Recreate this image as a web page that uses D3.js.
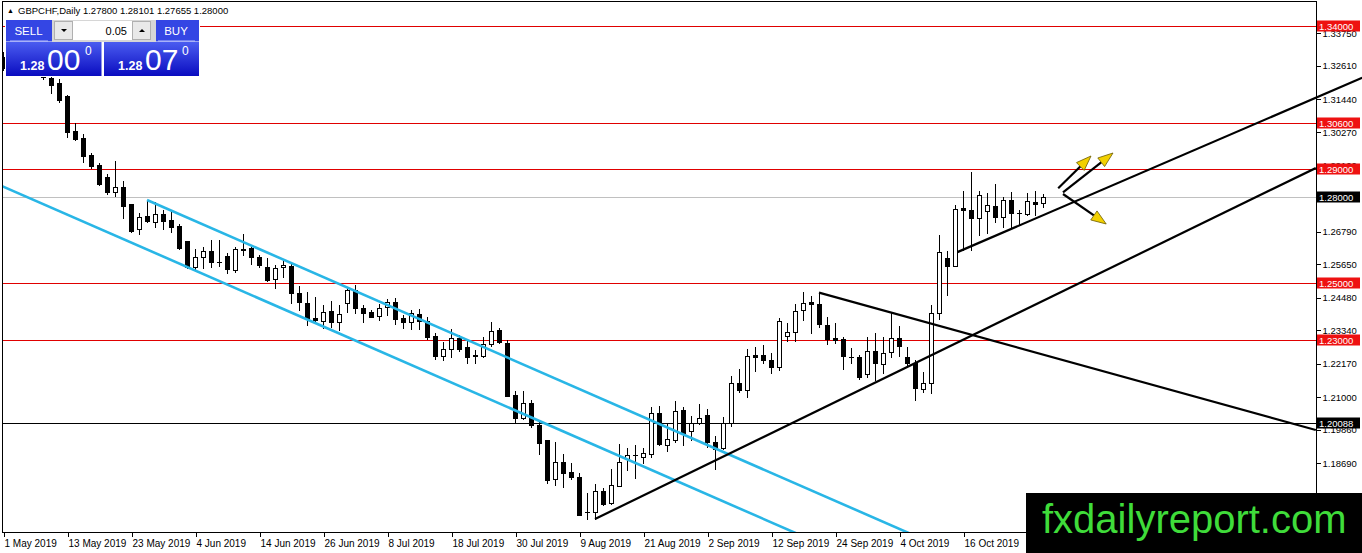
<!DOCTYPE html>
<html>
<head>
<meta charset="utf-8">
<script src="https://cdn.jsdelivr.net/npm/d3@7.9.0/dist/d3.min.js"></script>
<style>
  html, body { margin: 0; padding: 0; background: #fff; overflow: hidden; }
  svg { display: block; }
  text { font-family: "Liberation Sans", Arial, sans-serif; }
</style>
</head>
<body>
<svg id="chart" width="1362" height="553"></svg>
<script>
// GBPCHF daily, 1 May 2019 .. 30 Oct 2019 (one bar per trading day)
const symbol = 'GBPCHF,Daily';
const lastQuote = ['1.27800', '1.28101', '1.27655', '1.28000'];

const opens = [1.3291,1.3253,1.3305,1.3330,1.3285,1.3255,1.3218,1.3200,1.3155,1.3032,
  1.3007,1.2948,1.2913,1.2872,1.2820,1.2837,1.2775,1.2688,1.2735,1.2715,
  1.2742,1.2720,1.2699,1.2647,1.2557,1.2590,1.2611,1.2574,1.2594,1.2545,
  1.2620,1.2621,1.2590,1.2557,1.2513,1.2557,1.2559,1.2464,1.2429,1.2376,
  1.2368,1.2402,1.2364,1.2431,1.2475,1.2411,1.2398,1.2384,1.2415,1.2434,
  1.2378,1.2362,1.2390,1.2368,1.2314,1.2244,1.2269,1.2308,1.2275,1.2247,
  1.2245,1.2285,1.2335,1.2289,1.2106,1.2026,1.2078,1.2002,1.1950,1.1812,
  1.1874,1.1839,1.1819,1.1698,1.1698,1.1772,1.1728,1.1790,1.1882,1.1896,
  1.1891,1.1901,1.2043,1.1932,1.1950,1.2055,1.1981,1.2011,1.2037,1.1944,
  1.1921,1.2008,1.2149,1.2125,1.2247,1.2247,1.2230,1.2205,1.2314,1.2329,
  1.2405,1.2433,1.2426,1.2353,1.2306,1.2303,1.2240,1.2240,1.2180,1.2262,
  1.2216,1.2259,1.2306,1.2240,1.2221,1.2128,1.2151,1.2394,1.2588,1.2560,
  1.2761,1.2756,1.2726,1.2752,1.2770,1.2732,1.2791,1.2746,1.2740,1.2785,
  1.2780];
const highs = [1.3310,1.3320,1.3350,1.3345,1.3300,1.3270,1.3225,1.3214,1.3157,1.3061,
  1.3022,1.2956,1.2921,1.2882,1.2928,1.2857,1.2776,1.2744,1.2791,1.2785,
  1.2756,1.2750,1.2706,1.2648,1.2618,1.2625,1.2650,1.2650,1.2604,1.2627,
  1.2671,1.2627,1.2598,1.2586,1.2563,1.2580,1.2569,1.2489,1.2469,1.2452,
  1.2423,1.2438,1.2423,1.2487,1.2493,1.2423,1.2405,1.2426,1.2443,1.2446,
  1.2388,1.2405,1.2408,1.2380,1.2324,1.2294,1.2338,1.2318,1.2300,1.2265,
  1.2312,1.2364,1.2341,1.2300,1.2123,1.2123,1.2090,1.2014,1.1950,1.1944,
  1.1900,1.1868,1.1835,1.1763,1.1795,1.1781,1.1847,1.1935,1.1921,1.1932,
  1.1921,1.2064,1.2069,1.2011,1.2087,1.2064,1.2034,1.2076,1.2057,1.1964,
  1.2029,1.2174,1.2198,1.2268,1.2277,1.2283,1.2254,1.2376,1.2359,1.2426,
  1.2469,1.2454,1.2466,1.2382,1.2361,1.2310,1.2271,1.2248,1.2310,1.2324,
  1.2312,1.2399,1.2349,1.2277,1.2230,1.2189,1.2423,1.2668,1.2612,1.2773,
  1.2822,1.2890,1.2822,1.2814,1.2846,1.2802,1.2818,1.2756,1.2814,1.2822,
  1.28101];
const lows = [1.3245,1.3240,1.3280,1.3270,1.3240,1.3216,1.3164,1.3135,1.3011,1.3001,
  1.2925,1.2904,1.2843,1.2812,1.2805,1.2726,1.2680,1.2671,1.2715,1.2697,
  1.2688,1.2680,1.2618,1.2551,1.2548,1.2551,1.2557,1.2559,1.2534,1.2539,
  1.2598,1.2566,1.2557,1.2507,1.2481,1.2522,1.2429,1.2405,1.2353,1.2364,
  1.2341,1.2347,1.2335,1.2399,1.2396,1.2364,1.2380,1.2370,1.2388,1.2355,
  1.2343,1.2338,1.2338,1.2303,1.2233,1.2230,1.2242,1.2263,1.2221,1.2219,
  1.2242,1.2279,1.2289,1.2103,1.2014,1.2022,1.1994,1.1901,1.1800,1.1792,
  1.1784,1.1812,1.1687,1.1672,1.1674,1.1722,1.1726,1.1789,1.1845,1.1816,
  1.1868,1.1891,1.1932,1.1912,1.1944,1.1932,1.1950,1.2006,1.1924,1.1847,
  1.1918,1.1999,1.2119,1.2102,1.2193,1.2221,1.2186,1.2195,1.2298,1.2298,
  1.2370,1.2326,1.2347,1.2286,1.2291,1.2198,1.2221,1.2163,1.2172,1.2160,
  1.2186,1.2242,1.2244,1.2213,1.2090,1.2119,1.2113,1.2374,1.2458,1.2558,
  1.2615,1.2615,1.2668,1.2674,1.2715,1.2697,1.2691,1.2703,1.2738,1.2738,
  1.27655];
const closes = [1.3253,1.3305,1.3330,1.3285,1.3255,1.3222,1.3193,1.3141,1.3030,1.3004,
  1.2946,1.2911,1.2847,1.2820,1.2835,1.2771,1.2683,1.2730,1.2718,1.2740,
  1.2718,1.2697,1.2621,1.2557,1.2590,1.2611,1.2574,1.2575,1.2548,1.2618,
  1.2617,1.2590,1.2563,1.2510,1.2551,1.2562,1.2464,1.2434,1.2373,1.2370,
  1.2399,1.2364,1.2390,1.2475,1.2411,1.2394,1.2382,1.2413,1.2434,1.2373,
  1.2362,1.2394,1.2368,1.2312,1.2244,1.2268,1.2306,1.2268,1.2242,1.2244,
  1.2285,1.2332,1.2292,1.2105,1.2026,1.2078,1.2002,1.1938,1.1810,1.1874,
  1.1835,1.1819,1.1687,1.1698,1.1772,1.1726,1.1792,1.1874,1.1896,1.1896,
  1.1903,1.2046,1.1935,1.1952,1.2053,1.1975,1.2008,1.2026,1.1944,1.1918,
  1.2008,1.2149,1.2125,1.2244,1.2242,1.2230,1.2205,1.2368,1.2329,1.2403,
  1.2431,1.2426,1.2356,1.2303,1.2300,1.2244,1.2240,1.2170,1.2262,1.2219,
  1.2254,1.2306,1.2279,1.2221,1.2131,1.2149,1.2394,1.2609,1.2560,1.2758,
  1.2756,1.2726,1.2808,1.2773,1.2730,1.2791,1.2744,1.2746,1.2787,1.2776,
  1.2800];

// time axis: a label every 8 bars
const dateTickBars = [0, 8, 16, 24, 32, 40, 48, 56, 64, 72, 80, 88, 96, 104, 112, 120];
const dateLabels = ['1 May 2019', '13 May 2019', '23 May 2019', '4 Jun 2019', '14 Jun 2019',
  '26 Jun 2019', '8 Jul 2019', '18 Jul 2019', '30 Jul 2019', '9 Aug 2019', '21 Aug 2019',
  '2 Sep 2019', '12 Sep 2019', '24 Sep 2019', '4 Oct 2019', '16 Oct 2019'];

// price scale labels (the one under the 1.28000 tag is not shown)
const priceTicks = [1.33750, 1.32610, 1.31440, 1.30270, 1.29100, 1.26790, 1.25650,
  1.24480, 1.23340, 1.22170, 1.21000, 1.19860, 1.18690, 1.17520];

// horizontal levels
const redLevels = [1.34000, 1.30600, 1.29000, 1.25000, 1.23000];
const bidLevel = 1.28000;
const blackLevel = 1.20088;

// drawn objects, anchored on bar index / price
const cyanLines = [
  { i1: 18, p1: 1.27906, i2: 120, p2: 1.15411 },
  { i1: -0.5, p1: 1.2844, i2: 105, p2: 1.15516 }
];
const blackLines = [
  { i1: 74, p1: 1.16732, i2: 164.1, p2: 1.29026 },
  { i1: 102, p1: 1.2466, i2: 164.1, p2: 1.19849 }
];
const supportLine = { i1: 119.3, p1: 1.2608, i2: 169.9, p2: 1.32186 };
const arrows = [
  { i1: 131.9, p1: 1.28315, i2: 136, p2: 1.29447 },
  { i1: 132.5, p1: 1.28175, i2: 138.75, p2: 1.29552 },
  { i1: 132.5, p1: 1.28116, i2: 137.9, p2: 1.27065 }
];

const W = 1362, H = 553;
const plotL = 2, plotR = 1316, plotT = 1, plotB = 532;

const x = d3.scaleLinear().domain([0, 164.125]).range([3, 1316]);
const y = d3.scaleLinear().domain([1.162767, 1.348757]).range([532, 1]);

const svg = d3.select('#chart');
const defs = svg.append('defs');
defs.append('clipPath').attr('id', 'plotClip')
  .append('rect').attr('x', plotL).attr('y', plotT).attr('width', plotR - plotL).attr('height', plotB - plotT);
defs.append('clipPath').attr('id', 'wideClip')
  .append('rect').attr('x', plotL).attr('y', plotT).attr('width', W - plotL).attr('height', plotB - plotT);
let grad = defs.append('linearGradient').attr('id', 'blueGrad')
  .attr('x1', 0).attr('y1', 0).attr('x2', 0).attr('y2', 1);
grad.append('stop').attr('offset', '0%').attr('stop-color', '#4a5cf0');
grad.append('stop').attr('offset', '100%').attr('stop-color', '#0a0cc0');

const crisp = v => Math.round(v) + 0.5;

// horizontal levels (behind candles)
let lv = svg.append('g').attr('shape-rendering', 'crispEdges');
redLevels.forEach(p => {
  lv.append('line').attr('x1', plotL).attr('x2', plotR)
    .attr('y1', crisp(y(p))).attr('y2', crisp(y(p))).attr('stroke', '#e00000');
});
lv.append('line').attr('x1', plotL).attr('x2', plotR)
  .attr('y1', crisp(y(bidLevel))).attr('y2', crisp(y(bidLevel))).attr('stroke', '#c0c0c0');
lv.append('line').attr('x1', plotL).attr('x2', plotR)
  .attr('y1', crisp(y(blackLevel))).attr('y2', crisp(y(blackLevel))).attr('stroke', '#000');

// candles
const bars = opens.map((o, i) => ({ i, o, h: highs[i], l: lows[i], c: closes[i] }));
let cg = svg.append('g').attr('shape-rendering', 'crispEdges').attr('clip-path', 'url(#plotClip)');
cg.selectAll('line.wick').data(bars).join('line').attr('class', 'wick')
  .attr('x1', d => crisp(x(d.i))).attr('x2', d => crisp(x(d.i)))
  .attr('y1', d => Math.round(y(d.h))).attr('y2', d => Math.round(y(d.l)) + 1)
  .attr('stroke', '#000');
let bodies = bars.filter(d => Math.round(y(d.o)) !== Math.round(y(d.c)));
cg.selectAll('rect.body').data(bodies).join('rect').attr('class', 'body')
  .attr('x', d => Math.round(x(d.i)) - 2 + 0.5)
  .attr('width', 4)
  .attr('y', d => Math.round(y(Math.max(d.o, d.c))) + 0.5)
  .attr('height', d => Math.round(y(Math.min(d.o, d.c))) - Math.round(y(Math.max(d.o, d.c))))
  .attr('fill', d => d.c >= d.o ? '#fff' : '#000')
  .attr('stroke', '#000');
let dojis = bars.filter(d => Math.round(y(d.o)) === Math.round(y(d.c)));
cg.selectAll('line.doji').data(dojis).join('line').attr('class', 'doji')
  .attr('x1', d => Math.round(x(d.i)) - 2).attr('x2', d => Math.round(x(d.i)) + 3)
  .attr('y1', d => crisp(y(d.o))).attr('y2', d => crisp(y(d.o)))
  .attr('stroke', '#000');

// trend lines
let tl = svg.append('g').attr('clip-path', 'url(#plotClip)');
tl.selectAll('line.cyan').data(cyanLines).join('line').attr('class', 'cyan')
  .attr('x1', d => x(d.i1)).attr('y1', d => y(d.p1))
  .attr('x2', d => x(d.i2)).attr('y2', d => y(d.p2))
  .attr('stroke', '#29b6e6').attr('stroke-width', 2.6);
tl.selectAll('line.blk').data(blackLines).join('line').attr('class', 'blk')
  .attr('x1', d => x(d.i1)).attr('y1', d => y(d.p1))
  .attr('x2', d => x(d.i2)).attr('y2', d => y(d.p2))
  .attr('stroke', '#000').attr('stroke-width', 2.2);
svg.append('g').attr('clip-path', 'url(#wideClip)').append('line')
  .attr('x1', x(supportLine.i1)).attr('y1', y(supportLine.p1))
  .attr('x2', x(supportLine.i2)).attr('y2', y(supportLine.p2))
  .attr('stroke', '#000').attr('stroke-width', 2.2);

// arrows
let ag = svg.append('g');
arrows.forEach(a => {
  let x1 = x(a.i1), y1 = y(a.p1), x2 = x(a.i2), y2 = y(a.p2);
  let len = Math.hypot(x2 - x1, y2 - y1);
  let ux = (x2 - x1) / len, uy = (y2 - y1) / len;
  let headL = 15, headW = 5.5;
  let bx = x2 - ux * headL, by = y2 - uy * headL;
  ag.append('line').attr('x1', x1).attr('y1', y1).attr('x2', bx).attr('y2', by)
    .attr('stroke', '#000').attr('stroke-width', 2.2);
  ag.append('path')
    .attr('d', `M${x2},${y2}L${bx - uy * headW},${by + ux * headW}L${bx + uy * headW},${by - ux * headW}Z`)
    .attr('fill', '#f2d000').attr('stroke', '#6b5a00').attr('stroke-width', 0.8);
});

// frame
svg.append('rect').attr('x', plotL + 0.5).attr('y', plotT + 0.5)
  .attr('width', plotR - plotL).attr('height', plotB - plotT)
  .attr('fill', 'none').attr('stroke', '#000').attr('shape-rendering', 'crispEdges');

// price axis
let yAxis = svg.append('g').attr('transform', `translate(${plotR + 0.5},0)`)
  .call(d3.axisRight(y).tickValues(priceTicks).tickSize(4).tickPadding(2).tickFormat(d3.format('.5f')));
yAxis.select('.domain').remove();
yAxis.selectAll('line').attr('shape-rendering', 'crispEdges');
yAxis.selectAll('text').attr('font-size', 9.5).attr('fill', '#000')
  .style('font-family', '"Liberation Sans", Arial, sans-serif');

// time axis
let xAxis = svg.append('g').attr('transform', `translate(0,${plotB + 0.5})`)
  .call(d3.axisBottom(x).tickValues(dateTickBars).tickSize(4)
    .tickFormat((d, i) => dateLabels[i]));
xAxis.select('.domain').remove();
xAxis.selectAll('line').attr('shape-rendering', 'crispEdges')
  .attr('transform', 'translate(0.5,0)');
xAxis.selectAll('text').attr('font-size', 10).attr('fill', '#000')
  .attr('text-anchor', 'start').attr('dx', 1).attr('y', 6).attr('dy', '0.85em')
  .style('font-family', '"Liberation Sans", Arial, sans-serif');

// level labels on the price scale
function levelTag(p, bg) {
  let yy = Math.round(y(p));
  svg.append('rect').attr('x', plotR + 1).attr('y', yy - 5.5).attr('width', 43).attr('height', 11)
    .attr('fill', bg);
  svg.append('text').attr('x', plotR + 3).attr('y', yy + 3.6)
    .attr('font-size', 9.5).attr('fill', '#fff').text(d3.format('.5f')(p));
}
redLevels.forEach(p => levelTag(p, '#ee1111'));
levelTag(bidLevel, '#000');
levelTag(blackLevel, '#000');

// header
svg.append('text').attr('x', 7).attr('y', 13).attr('font-size', 7).attr('fill', '#000').text('\u25B2');
svg.append('text').attr('x', 18).attr('y', 13.5).attr('font-size', 9.5).attr('fill', '#000')
  .text(symbol + '  ' + lastQuote.join(' '));

// one-click trading panel
let pnl = svg.append('g');
pnl.append('rect').attr('x', 5).attr('y', 19).attr('width', 195).attr('height', 58).attr('fill', '#fff');
pnl.append('rect').attr('x', 6).attr('y', 20).attr('width', 46).attr('height', 21.5).attr('fill', '#3446e4');
pnl.append('rect').attr('x', 156).attr('y', 20).attr('width', 43).attr('height', 21.5).attr('fill', '#3446e4');
pnl.append('line').attr('x1', 10).attr('x2', 48).attr('y1', 41).attr('y2', 41).attr('stroke', '#b8c0ff');
pnl.append('line').attr('x1', 158).attr('x2', 195).attr('y1', 41).attr('y2', 41).attr('stroke', '#b8c0ff');
pnl.append('text').attr('x', 28.5).attr('y', 35).attr('text-anchor', 'middle').attr('font-size', 11.5)
  .attr('fill', '#fff').text('SELL');
pnl.append('text').attr('x', 176).attr('y', 35).attr('text-anchor', 'middle').attr('font-size', 11.5)
  .attr('fill', '#fff').text('BUY');
pnl.append('rect').attr('x', 52).attr('y', 20).attr('width', 104).attr('height', 22).attr('fill', '#d6d6d6');
pnl.append('rect').attr('x', 54.5).attr('y', 21.5).attr('width', 18).attr('height', 18)
  .attr('fill', '#e9e9e9').attr('stroke', '#b0b0b0');
pnl.append('rect').attr('x', 73).attr('y', 21).attr('width', 59).attr('height', 19).attr('fill', '#fff');
pnl.append('rect').attr('x', 132.5).attr('y', 21.5).attr('width', 18).attr('height', 18)
  .attr('fill', '#e9e9e9').attr('stroke', '#b0b0b0');
pnl.append('path').attr('d', 'M61,29L67,29L64,32Z').attr('fill', '#000');
pnl.append('path').attr('d', 'M139,32L145,32L142,29Z').attr('fill', '#000');
pnl.append('text').attr('x', 127).attr('y', 35).attr('text-anchor', 'end').attr('font-size', 11)
  .attr('fill', '#000').text('0.05');

const quoteBoxes = [
  { x: 6, w: 95.5, small: '1.28', big: '00', sup: '0', sx: 20, bx: 47, px: 85 },
  { x: 104, w: 95, small: '1.28', big: '07', sup: '0', sx: 118, bx: 145, px: 182 }
];
quoteBoxes.forEach(q => {
  pnl.append('rect').attr('x', q.x).attr('y', 42).attr('width', q.w).attr('height', 34)
    .attr('fill', 'url(#blueGrad)');
  pnl.append('text').attr('x', q.sx).attr('y', 70).attr('font-size', 12.5).attr('font-weight', 'bold')
    .attr('fill', '#fff').text(q.small);
  pnl.append('text').attr('x', q.bx).attr('y', 70).attr('font-size', 30)
    .attr('fill', '#fff').text(q.big);
  pnl.append('text').attr('x', q.px).attr('y', 55).attr('font-size', 12)
    .attr('fill', '#fff').text(q.sup);
});

// watermark
svg.append('rect').attr('x', 1026).attr('y', 493).attr('width', W - 1026).attr('height', H - 493)
  .attr('fill', '#000');
svg.append('text').attr('x', 1042).attr('y', 533).attr('font-size', 40).attr('fill', '#3fdc3a')
  .text('fxdailyreport.com');
</script>
</body>
</html>
